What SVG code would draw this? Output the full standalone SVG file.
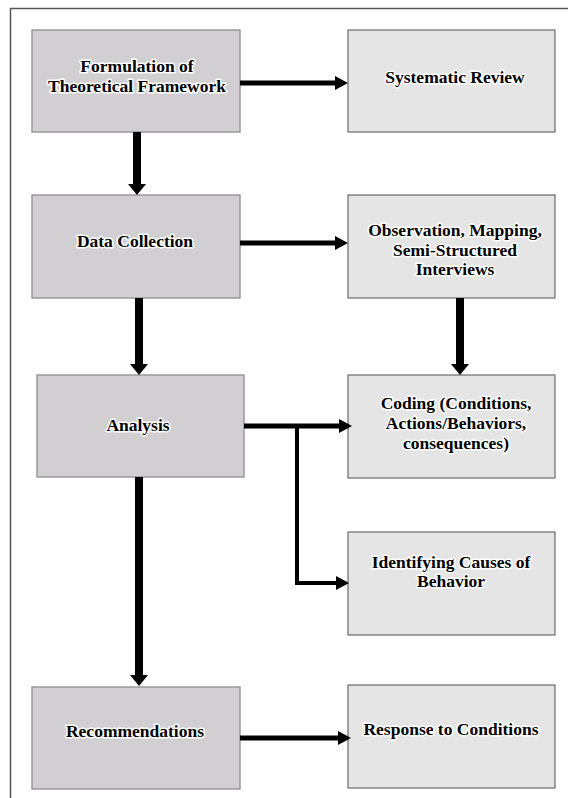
<svg xmlns="http://www.w3.org/2000/svg" width="568" height="798" viewBox="0 0 568 798">
<defs>
<style>
.l{fill:#d1cfd1;stroke:#9a9a9a;stroke-width:1.5}
.r{fill:#e5e5e5;stroke:#6a6a6a;stroke-width:1.2}
text{font-family:"Liberation Serif","Times New Roman",serif;font-weight:bold;font-size:17.5px;fill:#000;text-anchor:middle;stroke:#fff;stroke-width:3;stroke-linejoin:round;paint-order:stroke}
.c{fill:none;stroke:#000}
.h{stroke-width:5;marker-end:url(#ah)}
.v{stroke-width:8;marker-end:url(#av)}
</style>
<marker id="ah" markerUnits="userSpaceOnUse" markerWidth="13" markerHeight="14" refX="0" refY="7" orient="auto"><path d="M0,0 L13,7 L0,14 z" fill="#000"/></marker>
<marker id="av" markerUnits="userSpaceOnUse" markerWidth="11" markerHeight="18" refX="0" refY="9" orient="auto"><path d="M0,0 L11,9 L0,18 z" fill="#000"/></marker>
</defs>
<rect width="568" height="798" fill="#fff"/>
<path d="M10.5,798 V8.5 H568" fill="none" stroke="#555" stroke-width="1.5"/>
<g id="formulation"><rect class="l" x="32" y="30" width="208" height="102"/><text x="137" y="72">Formulation of</text><text x="137" y="92">Theoretical Framework</text></g>
<g id="systematic"><rect class="r" x="348" y="30" width="207" height="102"/><text x="455" y="83">Systematic Review</text></g>
<g id="datacollection"><rect class="l" x="32" y="195" width="208" height="103"/><text x="135" y="247">Data Collection</text></g>
<g id="observation"><rect class="r" x="348" y="195" width="207" height="103"/><text x="455" y="236">Observation, Mapping,</text><text x="455" y="256">Semi-Structured</text><text x="455" y="275">Interviews</text></g>
<g id="analysis"><rect class="l" x="37" y="375" width="207" height="102"/><text x="138" y="431">Analysis</text></g>
<g id="coding"><rect class="r" x="348" y="375" width="207" height="103"/><text x="456" y="409">Coding (Conditions,</text><text x="456" y="429">Actions/Behaviors,</text><text x="456" y="449">consequences)</text></g>
<g id="identifying"><rect class="r" x="348" y="532" width="207" height="103"/><text x="451" y="568">Identifying Causes of</text><text x="451" y="587">Behavior</text></g>
<g id="recommendations"><rect class="l" x="32" y="687" width="208" height="102"/><text x="135" y="737">Recommendations</text></g>
<g id="response"><rect class="r" x="348" y="685" width="207" height="103"/><text x="451" y="735">Response to Conditions</text></g>
<g id="connectors">
<path class="c h" d="M240,83 H335"/>
<path class="c v" d="M137,132 V184"/>
<path class="c h" d="M240,243 H335"/>
<path class="c v" d="M139,298 V364"/>
<path class="c v" d="M460,298 V364"/>
<path class="c h" d="M244,426 H339"/>
<path class="c" d="M297,426 V583 H336" stroke-width="4" marker-end="url(#ah)"/>
<path class="c v" d="M139,477 V675"/>
<path class="c h" d="M240,738 H338"/>
</g>
</svg>
